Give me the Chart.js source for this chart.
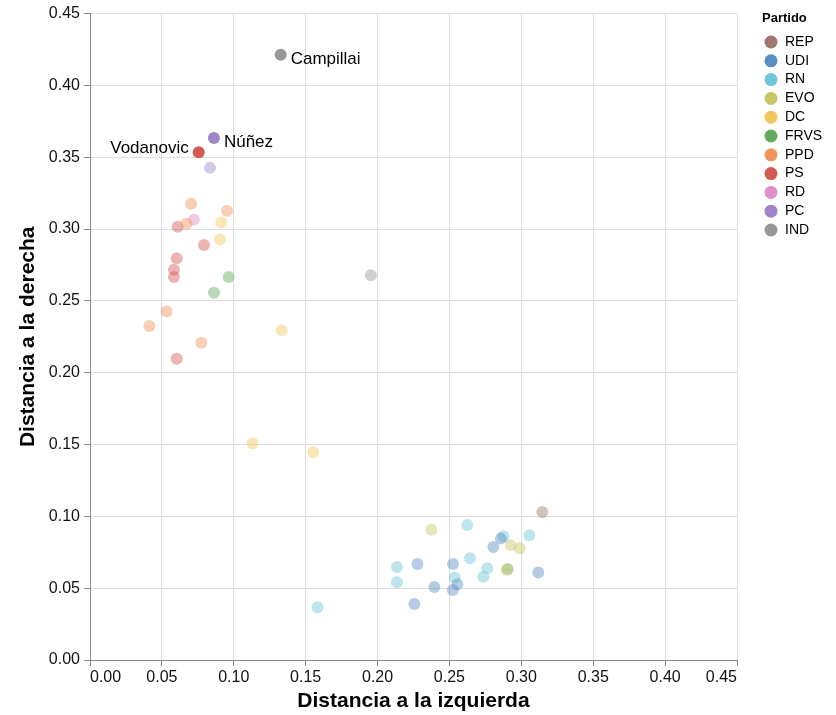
<!DOCTYPE html>
<html>
<head>
<meta charset="utf-8">
<script src="https://cdn.jsdelivr.net/npm/chart.js@4/dist/chart.umd.min.js"></script>
<style>
  body { margin: 0; background: #fff; }
  .js-chart { width: 836px; height: 715px; }
</style>
</head>
<body>
<div class="js-chart"><canvas id="distChart" width="836" height="715"></canvas></div>
<script>
const partidos = ['REP', 'UDI', 'RN', 'EVO', 'DC', 'FRVS', 'PPD', 'PS', 'RD', 'PC', 'IND'];
const colores = ['#9f776c', '#5a8dc3', '#6ec6d8', '#c7c766', '#f1c760', '#62aa5e', '#f0945a', '#d45955', '#dd90ca', '#9d85c7', '#979797'];

// one entry per diputado
const partidoDe = [
  'IND', 'IND', 'PC', 'PC', 'PS', 'PS', 'PS', 'PS', 'PS', 'PS', 'PS', 'RD',
  'PPD', 'PPD', 'PPD', 'PPD', 'PPD', 'PPD', 'DC', 'DC', 'DC', 'DC', 'DC',
  'FRVS', 'FRVS', 'FRVS', 'EVO', 'EVO', 'EVO', 'EVO', 'REP',
  'RN', 'RN', 'RN', 'RN', 'RN', 'RN', 'RN', 'RN', 'RN', 'RN',
  'UDI', 'UDI', 'UDI', 'UDI', 'UDI', 'UDI', 'UDI', 'UDI', 'UDI'
];
const izquierda = [
  0.1326, 0.1954, 0.0862, 0.0835, 0.0756, 0.0610, 0.0793, 0.0603, 0.0584, 0.0584, 0.0603, 0.0723,
  0.0703, 0.0953, 0.0672, 0.0533, 0.0413, 0.0774, 0.0913, 0.0904, 0.1333, 0.1131, 0.1553,
  0.0964, 0.0862, 0.2905, 0.2374, 0.2926, 0.2988, 0.2898, 0.3146,
  0.2624, 0.3056, 0.2875, 0.2643, 0.2135, 0.2763, 0.2736, 0.2135, 0.2536, 0.1583,
  0.2858, 0.2805, 0.2277, 0.2525, 0.3118, 0.2555, 0.2523, 0.2395, 0.2256
];
const derecha = [
  0.4213, 0.2678, 0.3634, 0.3426, 0.3535, 0.3016, 0.2889, 0.2796, 0.2717, 0.2667, 0.2097, 0.3067,
  0.3176, 0.3127, 0.3037, 0.2426, 0.2326, 0.2208, 0.3046, 0.2928, 0.2296, 0.1509, 0.1447,
  0.2667, 0.2556, 0.0634, 0.0907, 0.0799, 0.0778, 0.0628, 0.1030,
  0.0940, 0.0868, 0.0861, 0.0708, 0.0648, 0.0639, 0.0579, 0.0542, 0.0574, 0.0368,
  0.0845, 0.0787, 0.0669, 0.0669, 0.0609, 0.0528, 0.0488, 0.0509, 0.0389
];
const nombre = ['Campillai', '', 'Núñez', '', 'Vodanovic'];
const etiquetaIzq = ['Vodanovic'];

const ticksEje = [0, 0.05, 0.1, 0.15, 0.2, 0.25, 0.3, 0.35, 0.4, 0.45];

const colorDe = function (partido, alpha) {
  const hex = colores[partidos.indexOf(partido)];
  const r = parseInt(hex.slice(1, 3), 16), g = parseInt(hex.slice(3, 5), 16), b = parseInt(hex.slice(5, 7), 16);
  return `rgba(${r},${g},${b},${alpha})`;
};

const fondo = [], destacados = [], fondoCol = [], destCol = [], destNombre = [];
for (let i = 0; i < partidoDe.length; i++) {
  const p = { x: izquierda[i], y: derecha[i] };
  if (nombre[i]) {
    destacados.push(p);
    destCol.push(colorDe(partidoDe[i], 1));
    destNombre.push(nombre[i]);
  } else {
    fondo.push(p);
    fondoCol.push(colorDe(partidoDe[i], 0.45));
  }
}

const etiquetas = {
  id: 'etiquetas',
  afterDatasetsDraw(chart) {
    const ctx = chart.ctx;
    const meta = chart.getDatasetMeta(0);
    ctx.save();
    ctx.font = '17px "Liberation Sans", Arial, sans-serif';
    ctx.fillStyle = '#000';
    ctx.textBaseline = 'middle';
    meta.data.forEach(function (el, i) {
      const n = destNombre[i];
      if (etiquetaIzq.includes(n)) {
        ctx.textAlign = 'right';
        ctx.fillText(n, el.x - 10, el.y - 4);
      } else {
        ctx.textAlign = 'left';
        ctx.fillText(n, el.x + 10, el.y + 4);
      }
    });
    ctx.restore();
  }
};

const leyenda = {
  id: 'leyenda',
  afterDraw(chart) {
    const ctx = chart.ctx;
    ctx.save();
    ctx.fillStyle = '#000';
    ctx.textBaseline = 'middle';
    ctx.textAlign = 'left';
    ctx.font = 'bold 13px "Liberation Sans", Arial, sans-serif';
    ctx.fillText('Partido', 762, 18);
    ctx.font = '14px "Liberation Sans", Arial, sans-serif';
    partidos.forEach(function (p, i) {
      const y = 42 + i * 18.8;
      ctx.beginPath();
      ctx.arc(771, y, 6.5, 0, Math.PI * 2);
      ctx.fillStyle = colores[i];
      ctx.fill();
      ctx.fillStyle = '#000';
      ctx.fillText(p, 785, y);
    });
    ctx.restore();
  }
};

const ejeBase = function (titulo) {
  return {
    type: 'linear',
    min: 0,
    max: 0.45,
    afterBuildTicks: function (s) { s.ticks = ticksEje.map(v => ({ value: v })); },
    ticks: {
      color: '#111',
      font: { size: 16, family: '"Liberation Sans", Arial, sans-serif' },
      callback: v => v.toFixed(2)
    },
    grid: { color: '#dddddd', tickColor: '#888888', tickLength: 6 },
    border: { color: '#888888' },
    title: {
      display: true,
      text: titulo,
      color: '#000',
      font: { size: 21, weight: 'bold', family: '"Liberation Sans", Arial, sans-serif' }
    }
  };
};

const drawChart = function () {
  const ctx = document.getElementById('distChart').getContext('2d');
  const ejeX = ejeBase('Distancia a la izquierda');
  ejeX.ticks.align = 'inner';
  ejeX.ticks.padding = 2;
  ejeX.title.padding = { top: 0, bottom: 1 };
  ejeX.afterFit = function (s) { s.height = 55; };
  const ejeY = ejeBase('Distancia a la derecha');
  ejeY.ticks.padding = 4;
  ejeY.title.padding = { top: 16, bottom: 0 };
  ejeY.afterFit = function (s) { s.width = 90; };

  const config = {
    type: 'scatter',
    data: {
      datasets: [
        { data: destacados, backgroundColor: destCol, borderWidth: 0, pointRadius: 6, pointHoverRadius: 6 },
        { data: fondo, backgroundColor: fondoCol, borderWidth: 0, pointRadius: 6, pointHoverRadius: 6 }
      ]
    },
    options: {
      responsive: false,
      animation: false,
      devicePixelRatio: 1,
      layout: { padding: { top: 12, right: 99, left: 0, bottom: 0 } },
      scales: { x: ejeX, y: ejeY },
      plugins: {
        legend: { display: false },
        title: { display: false },
        tooltip: { enabled: false }
      }
    },
    plugins: [etiquetas, leyenda]
  };
  new Chart(ctx, config);
};

document.addEventListener('DOMContentLoaded', function () {
  drawChart();
});
</script>
</body>
</html>
